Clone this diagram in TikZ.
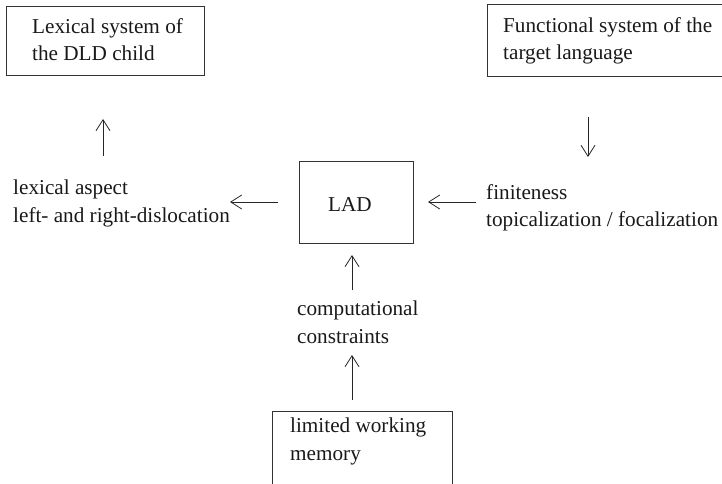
\documentclass[tikz,border=0pt]{standalone}
\usepackage{fontspec}
\setmainfont{Liberation Serif}
\usetikzlibrary{arrows.meta}
\begin{document}
\begin{tikzpicture}[x=1pt,y=-1pt,
  every node/.style={font=\fontsize{21.2}{27.5}\selectfont},
  box/.style={draw=black!80, line width=0.8pt, rectangle, inner sep=0pt, anchor=north west},
  txt/.style={inner sep=0pt, anchor=north west, align=left, text=black!90},
  arr/.style={draw=black!85, line width=0.8pt, -{Straight Barb[length=11pt,width=14pt,line width=0.8pt]}}]
\useasboundingbox (0,0) rectangle (722,484);
\clip (0,0) rectangle (722,484);
% boxes
\node[box, minimum width=198pt, minimum height=69pt] (lex) at (6,6) {};
\node[box, minimum width=250pt, minimum height=72pt] (fun) at (487,4) {};
\node[box, minimum width=114pt, minimum height=82pt] (lad) at (299,161) {};
\node[box, minimum width=180pt, minimum height=100pt] (mem) at (272,411) {};
% texts
\node[txt] (lextxt) at (32,18) {Lexical system of\\the DLD child};
\node[txt] (funtxt) at (503,17) {Functional system of the\\target language};
\node[inner sep=0pt, text=black!90] (ladtxt) at (350,205) {LAD};
\node[txt] (left) at (13,180) {lexical aspect\\left- and right-dislocation};
\node[txt] (right) at (486,184) {finiteness\\topicalization / focalization};
\node[txt] (comp) at (297,301) {computational\\constraints};
\node[txt] (memtxt) at (290,418) {limited working\\memory};
% arrow end points
\coordinate (a1s) at (103,156); \coordinate (a1e) at (103,119);
\coordinate (a2s) at (588,117); \coordinate (a2e) at (588,157);
\coordinate (a3s) at (278,202); \coordinate (a3e) at (230,202);
\coordinate (a4s) at (476,202); \coordinate (a4e) at (428,202);
\coordinate (a5s) at (352,290); \coordinate (a5e) at (352,255);
\coordinate (a6s) at (352,400); \coordinate (a6e) at (352,355);
\draw[arr] (a1s) -- (a1e);
\draw[arr] (a2s) -- (a2e);
\draw[arr] (a3s) -- (a3e);
\draw[arr] (a4s) -- (a4e);
\draw[arr] (a5s) -- (a5e);
\draw[arr] (a6s) -- (a6e);
\end{tikzpicture}
\end{document}
